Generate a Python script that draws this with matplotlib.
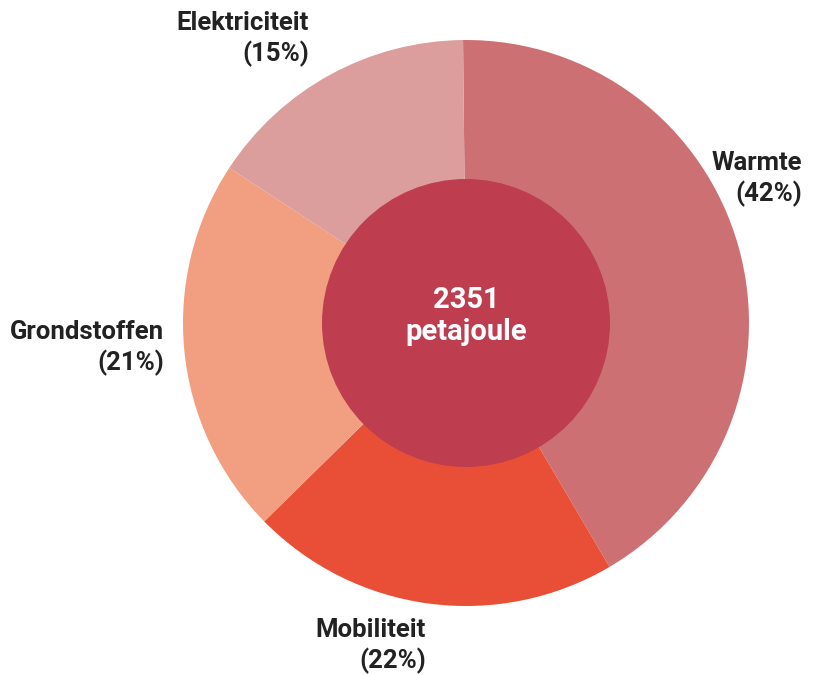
import matplotlib.pyplot as plt
from matplotlib.patches import Circle

# energy use by category
labels = ["Warmte", "Mobiliteit", "Grondstoffen", "Elektriciteit"]
pct_labels = [42, 22, 21, 15]
# wedge sizes as drawn in the picture (percent)
shares = [41.7, 21.1, 21.6, 15.6]
colors = ["#CD7074", "#E84F36", "#F29E80", "#DC9D9D"]
total_text = "2351\npetajoule"

plt.rcParams['font.family'] = ['Roboto', 'DejaVu Sans']

fig = plt.figure(figsize=(8.31, 6.75), dpi=100)
ax = fig.add_axes([0, 0, 1, 1])

cx, cy = 466, 675 - 323
ax.pie(shares, colors=colors, startangle=90.6, counterclock=False,
       center=(cx, cy), radius=283, frame=True,
       wedgeprops=dict(linewidth=0))
ax.set_xlim(0, 831)
ax.set_ylim(0, 675)
ax.set_aspect('equal')
ax.axis('off')

ax.add_patch(Circle((cx, cy), 144, facecolor="#BE3E4F", edgecolor='none', zorder=3))
ax.text(cx, 675 - 316, total_text, ha='center', va='center', color='white',
        fontsize=21, fontweight='bold', linespacing=1.2, zorder=4)

# label anchors: right edge x and vertical centre in pixels from top
label_pos = [(802, 179), (426, 646), (164, 348), (309, 39)]
for name, pct, (x, y) in zip(labels, pct_labels, label_pos):
    ax.text(x, 675 - y, f"{name}\n({pct}%)", ha='right', va='center',
            multialignment='right', color='#222222', fontsize=18.5,
            fontweight='bold', linespacing=1.3)

fig.savefig("out.png", dpi=100)
